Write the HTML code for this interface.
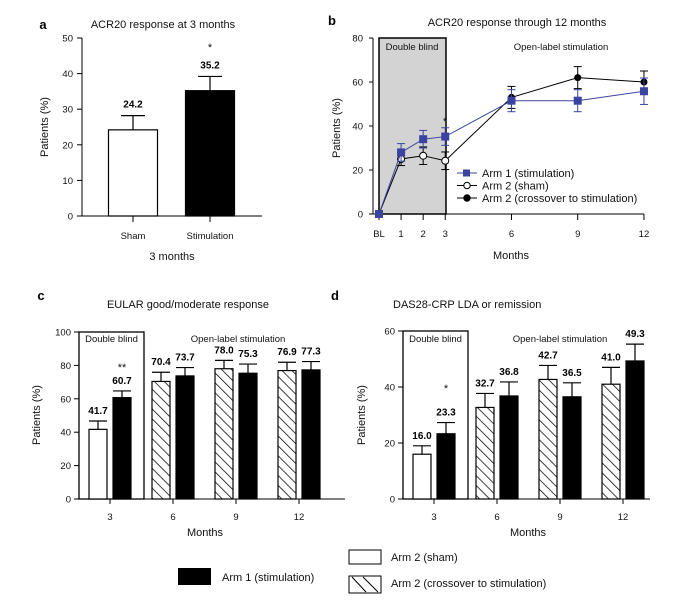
<!DOCTYPE html>
<html><head><meta charset="utf-8">
<style>
body{margin:0;background:#fff;}
svg{display:block;font-family:"Liberation Sans",sans-serif;}
.t{font-size:11px;fill:#111}
.tk{font-size:9.5px;fill:#111}
.b{font-size:13px;font-weight:bold;fill:#000}
.v{font-size:10px;font-weight:bold;fill:#000}
</style></head>
<body>
<svg id="fig" width="692" height="600" viewBox="0 0 692 600">
<defs>
<pattern id="hatch" patternUnits="userSpaceOnUse" width="7" height="7" patternTransform="rotate(-45)">
<rect width="7" height="7" fill="#fff"/><line x1="0" y1="0" x2="0" y2="7" stroke="#000" stroke-width="1.5"/>
</pattern>
</defs>
</svg>
<script>
// Panel a
const aCats=["Sham","Stimulation"];
const aVals=[24.2,35.2];
const aErr=[4,4];
const aLabels=["24.2","35.2"];
// Panel b
const bMonths=[0,1,2,3,6,9,12];
const bTickLabels=["BL","1","2","3","6","9","12"];
const bArm1=[0,28,34,35.2,51.5,51.5,55.8];
const bArm1Err=[0,4,4,4,5,5,6];
const bShamMonths=[0,1,2,3];
const bSham=[0,25,26.5,24.2];
const bShamErr=[0,3,4,4];
const bCrossMonths=[3,6,9,12];
const bCross=[24.2,53,62,60];
const bCrossErr=[4,5,5,5];
// Panel c
const cCats=["3","6","9","12"];
const cArm2=[41.7,70.4,78.0,76.9];
const cArm2Err=[5,5.5,5,5];
const cArm1=[60.7,73.7,75.3,77.3];
const cArm1Err=[4,5,5.5,5];
// Panel d
const dCats=["3","6","9","12"];
const dArm2=[16.0,32.7,42.7,41.0];
const dArm2Err=[3,5,5,6];
const dArm1=[23.3,36.8,36.5,49.3];
const dArm1Err=[4,5,5,6];

const svg=document.getElementById('fig');
const NS='http://www.w3.org/2000/svg';
function el(tag,attrs,parent){const e=document.createElementNS(NS,tag);for(const k in attrs)e.setAttribute(k,attrs[k]);(parent||svg).appendChild(e);return e;}
function txt(x,y,s,cls,anchor,parent){const e=el('text',{x:x,y:y,class:cls,'text-anchor':anchor||'middle'},parent);e.textContent=s;return e;}
function line(x1,y1,x2,y2,c,w,p){return el('line',{x1,y1,x2,y2,stroke:c||'#000','stroke-width':w||1},p);}
function errbar(g,x,yTop,yBase,hw){line(x,yBase,x,yTop,'#000',1.2,g);line(x-hw,yTop,x+hw,yTop,'#000',1.2,g);}

// ---------- Panel a ----------
{const g=el('g',{});


const ya=v=>216-v*(178/50);const xc=[133,210];
txt(43,29,'a','b','middle',g);
txt(163,28,'ACR20 response at 3 months','t','middle',g);
line(82,38,82,216,'#000',1,g);line(82,216,262,216,'#000',1,g);
for(let v=0;v<=50;v+=10){line(77,ya(v),82,ya(v),'#000',1,g);txt(73,ya(v)+3.5,String(v),'tk','end',g);}
aVals.forEach((v,i)=>{
 const r=el('rect',{x:xc[i]-24.5,y:ya(v),width:49,height:216-ya(v),fill:i?'#000':'#fff',stroke:'#000','stroke-width':1.2},g);
 
 
 errbar(g,xc[i],ya(v+aErr[i]),ya(v),12);
 txt(xc[i],ya(v+aErr[i])-8,aLabels[i],'v','middle',g);
 line(xc[i],216,xc[i],222,'#000',1,g);
 txt(xc[i],239,aCats[i],'tk','middle',g);
});
txt(210,51,'*','t','middle',g);
txt(172,260,'3 months','t','middle',g);
const yl=txt(48,127,'Patients (%)','t','middle',g);yl.setAttribute('transform','rotate(-90 48 127)');
}

// ---------- Panel b ----------
{const g=el('g',{});


const xb=m=>379+m*22.08;const yb=v=>214-v*(176/80);
txt(332,25,'b','b','middle',g);
txt(517,26,'ACR20 response through 12 months','t','middle',g);
const box=el('rect',{x:379,y:38,width:67,height:176,fill:'#d3d3d3',stroke:'#000','stroke-width':1.5},g);


txt(412,50,'Double blind','tk','middle',g);
txt(561,50,'Open-label stimulation','tk','middle',g);
line(373,38,373,214,'#000',1,g);line(373,214,644,214,'#000',1,g);
for(let v=0;v<=80;v+=20){line(369,yb(v),373,yb(v),'#000',1,g);txt(363,yb(v)+3.5,String(v),'tk','end',g);}
bMonths.forEach((m,i)=>{line(xb(m),214,xb(m),220,'#000',1,g);txt(xb(m),237,bTickLabels[i],'tk','middle',g);});
txt(511,259,'Months','t','middle',g);
const yl=txt(340,128,'Patients (%)','t','middle',g);yl.setAttribute('transform','rotate(-90 340 128)');
function series(ms,vals,errs,color,kind,name){
 const sg=el('g',{},g);
 
 
 el('polyline',{points:ms.map((m,i)=>xb(m)+','+yb(vals[i])).join(' '),fill:'none',stroke:color,'stroke-width':1},sg);
 ms.forEach((m,i)=>{
  if(errs[i]){const x=xb(m);line(x,yb(vals[i]-errs[i]),x,yb(vals[i]+errs[i]),color,1,sg);line(x-4,yb(vals[i]+errs[i]),x+4,yb(vals[i]+errs[i]),color,1,sg);line(x-4,yb(vals[i]-errs[i]),x+4,yb(vals[i]-errs[i]),color,1,sg);}
  if(kind==='sq')el('rect',{x:xb(m)-4,y:yb(vals[i])-4,width:8,height:8,fill:color},sg);
  else if(kind==='open')el('circle',{cx:xb(m),cy:yb(vals[i]),r:3.5,fill:'#fff',stroke:'#000'},sg);
  else el('circle',{cx:xb(m),cy:yb(vals[i]),r:3.5,fill:'#000'},sg);
 });
}
series(bCrossMonths,bCross,[0,5,5,5],'#000','fill','series-arm2-crossover');
series(bShamMonths,bSham,bShamErr,'#000','open','series-arm2-sham');
series(bMonths,bArm1,bArm1Err,'#3a44a0','sq','series-arm1-stimulation');
txt(445,125,'*','t','middle',g);
const lg=el('g',{},g);


const lrows=[['Arm 1 (stimulation)','sq','#3a44a0'],['Arm 2 (sham)','open','#000'],['Arm 2 (crossover to stimulation)','fill','#000']];
lrows.forEach((r,i)=>{const y=173+i*12.5;line(457,y,477,y,r[2],1,lg);
 if(r[1]==='sq')el('rect',{x:463,y:y-3.5,width:7,height:7,fill:r[2]},lg);
 else el('circle',{cx:467,cy:y,r:3.2,fill:r[1]==='open'?'#fff':'#000',stroke:'#000'},lg);
 txt(482,y+4,r[0],'t','start',lg);});
}

// ---------- grouped bar panels ----------
function grouped(opts){
 const g=el('g',{});
 
 
 const y=v=>opts.y0-v*(opts.y0-opts.yTop)/opts.max;
 txt(opts.letterX,300,opts.letter,'b','middle',g);
 txt(opts.titleX,308,opts.title,'t',opts.titleAnchor,g);
 const box=el('rect',{x:opts.ax,y:opts.yTop,width:opts.boxW,height:opts.y0-opts.yTop,fill:'none',stroke:'#000','stroke-width':1.3},g);
 
 
 txt(opts.ax+opts.boxW/2,342,'Double blind','tk','middle',g);
 txt(opts.olX,342,'Open-label stimulation','tk','middle',g);
 line(opts.ax,opts.yTop,opts.ax,opts.y0,'#000',1,g);line(opts.ax,opts.y0,opts.axEnd,opts.y0,'#000',1,g);
 for(let v=0;v<=opts.max;v+=opts.step){line(opts.ax-5,y(v),opts.ax,y(v),'#000',1,g);txt(opts.ax-8,y(v)+3.5,String(v),'tk','end',g);}
 opts.cats.forEach((c,i)=>{
  const xc=opts.x0+i*opts.dx;
  line(xc,opts.y0,xc,opts.y0+5,'#000',1,g);txt(xc,opts.y0+21,c,'tk','middle',g);
  [[opts.arm2[i],opts.arm2Err[i],xc-21,i===0?'#fff':'url(#hatch)','arm2'],[opts.arm1[i],opts.arm1Err[i],xc+3,'#000','arm1']].forEach(b=>{
   const r=el('rect',{x:b[2],y:y(b[0]),width:18,height:opts.y0-y(b[0]),fill:b[3],stroke:'#000','stroke-width':1.2},g);
   
   
   errbar(g,b[2]+9,y(b[0]+b[1]),y(b[0]),9);
   txt(b[2]+9,y(b[0]+b[1])-7,b[0].toFixed(1),'v','middle',g);
  });
 });
 txt(opts.starX,opts.starY,opts.star,'t','middle',g);
 txt(opts.monthsX,536,'Months','t','middle',g);
 const yl=txt(opts.ylX,415,'Patients (%)','t','middle',g);yl.setAttribute('transform','rotate(-90 '+opts.ylX+' 415)');
}
grouped({name:'panel-c-chart',letter:'c',letterX:41,title:'EULAR good/moderate response',titleX:188,titleAnchor:'middle',
 ax:79,boxW:65,axEnd:345,yTop:332,y0:499,max:100,step:20,x0:110,dx:63,cats:cCats,arm1:cArm1,arm1Err:cArm1Err,arm2:cArm2,arm2Err:cArm2Err,
 olX:238,star:'**',starX:122,starY:371,monthsX:205,ylX:40});
grouped({name:'panel-d-chart',letter:'d',letterX:335,title:'DAS28-CRP LDA or remission',titleX:393,titleAnchor:'start',
 ax:403,boxW:65,axEnd:650,yTop:331,y0:499,max:60,step:20,x0:434,dx:63,cats:dCats,arm1:dArm1,arm1Err:dArm1Err,arm2:dArm2,arm2Err:dArm2Err,
 olX:560,star:'*',starX:446,starY:392,monthsX:528,ylX:365});

// ---------- bottom legend ----------
{const g=el('g',{});


el('rect',{x:178,y:568,width:33,height:17,fill:'#000'},g);
txt(222,581,'Arm 1 (stimulation)','t','start',g);
el('rect',{x:349,y:550,width:32,height:14,fill:'#fff',stroke:'#000','stroke-width':1},g);
txt(391,561,'Arm 2 (sham)','t','start',g);
el('rect',{x:349,y:576,width:32,height:17,fill:'#fff',stroke:'#000','stroke-width':1},g);
line(352,577,366,592,'#000',1,g);line(363,577,378,592,'#000',1,g);
txt(391,587,'Arm 2 (crossover to stimulation)','t','start',g);
}
</script>
</body></html>
